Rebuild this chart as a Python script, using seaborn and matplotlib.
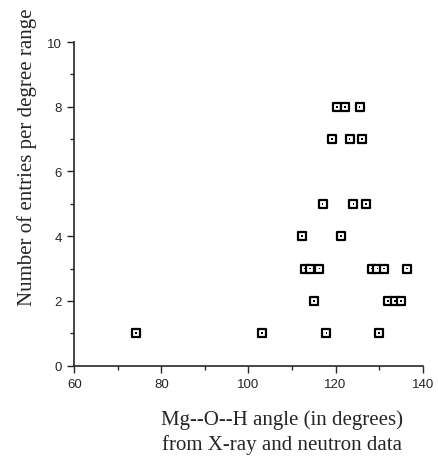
import matplotlib
matplotlib.use("Agg")
import matplotlib.pyplot as plt
from matplotlib.ticker import MultipleLocator
import seaborn as sns
import pandas as pd

# angle values, grouped by count level
angle = [120.3, 122.2, 125.5,
         119.2, 123.2, 126.1,
         117.0, 124.1, 127.0,
         112.3, 121.3,
         113.0, 114.1, 116.3, 128.3, 129.6, 131.2, 136.4,
         115.1, 132.1, 133.7, 135.0,
         74.2, 103.1, 117.9, 130.0]
entries = [8, 8, 8,
           7, 7, 7,
           5, 5, 5,
           4, 4,
           3, 3, 3, 3, 3, 3, 3,
           2, 2, 2, 2,
           1, 1, 1, 1]

df = pd.DataFrame({"angle": angle, "entries": entries})

sns.set_style("ticks")
plt.rcParams['font.family'] = ['Liberation Sans', 'DejaVu Sans']

fig = plt.figure(figsize=(4.38, 4.60), dpi=100)
ax = fig.add_axes([0.1696, 0.2028, 0.7954, 0.7037])

sns.scatterplot(data=df, x="angle", y="entries", marker="s", s=30,
                color="white", edgecolor="black", linewidth=1.6, ax=ax, zorder=3)
sns.scatterplot(data=df, x="angle", y="entries", marker="s", s=1.5,
                color="black", edgecolor="none", ax=ax, zorder=4)

ax.set_xlim(60, 140)
ax.set_ylim(0, 10)
ax.xaxis.set_major_locator(MultipleLocator(20))
ax.xaxis.set_minor_locator(MultipleLocator(10))
ax.yaxis.set_major_locator(MultipleLocator(2))
ax.yaxis.set_minor_locator(MultipleLocator(1))
ax.tick_params(which="major", length=5, width=1, direction="out", labelsize=9.5, pad=4)
ax.tick_params(which="minor", length=3, width=1, direction="out")
for sp in ["left", "bottom"]:
    ax.spines[sp].set_linewidth(1.2)
sns.despine(ax=ax)

ax.set_xlabel("")
ax.set_ylabel("")
fig.text(0.062, 0.658, "Number of entries per degree range", rotation=90,
         ha="center", va="center", family="Liberation Serif", fontsize=15)
fig.text(0.643, 0.087, "Mg--O--H angle (in degrees)", ha="center", va="center",
         family="Liberation Serif", fontsize=15)
fig.text(0.643, 0.033, "from X-ray and neutron data", ha="center", va="center",
         family="Liberation Serif", fontsize=15)

fig.savefig("out.png", dpi=100)
